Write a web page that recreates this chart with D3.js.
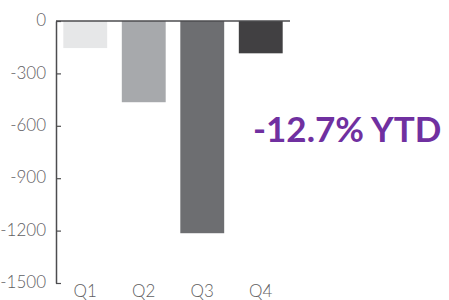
<!DOCTYPE html>
<html>
<head>
<meta charset="utf-8">
<script src="https://cdn.jsdelivr.net/npm/d3@7"></script>
<style>
  body { margin: 0; background: #fff; }
  text { font-family: "Lato", "Noto Sans", sans-serif; }
</style>
</head>
<body>
<div id="chart"></div>
<script>
// data
var quarters = ["Q1", "Q2", "Q3", "Q4"];
var values = [-155, -465, -1215, -185];
var barColors = ["#e6e7e8", "#a7a9ac", "#6d6e71", "#414042"];
var yTicks = [0, -300, -600, -900, -1200, -1500];
var note = "-12.7% YTD";

var W = 449, H = 300;
var margin = {top: 21, right: 159, bottom: 17, left: 56};
var width = W - margin.left - margin.right;
var height = H - margin.top - margin.bottom;

var svg = d3.select("#chart")
  .append("svg")
    .attr("width", W)
    .attr("height", H)
  .append("g")
    .attr("transform", "translate(" + margin.left + "," + margin.top + ")");

var x = d3.scaleBand()
  .domain(quarters)
  .range([0, width])
  .paddingInner(0.25)
  .paddingOuter(0.125);

var y = d3.scaleLinear()
  .domain([0, -1500])
  .range([0, height]);

// bars
svg.selectAll("rect.bar")
  .data(values)
  .enter()
  .append("rect")
    .attr("class", "bar")
    .attr("x", function(d, i) { return x(quarters[i]); })
    .attr("y", y(0))
    .attr("width", x.bandwidth())
    .attr("height", function(d) { return y(d) - y(0); })
    .style("fill", function(d, i) { return barColors[i]; });

// y axis
var yAxis = svg.append("g")
  .call(d3.axisLeft(y)
    .tickValues(yTicks)
    .tickFormat(function(d) { return String(d); })
    .tickSize(-5)
    .tickSizeOuter(0));
yAxis.select(".domain").attr("stroke", "#4d4d4f").attr("stroke-width", 1.5);
yAxis.selectAll(".tick line").attr("stroke", "#4d4d4f").attr("stroke-width", 1.2);
yAxis.selectAll(".tick text")
  .attr("fill", "#5f6062")
  .style("font-size", "17px")
  .style("font-weight", "300")
  .attr("x", -10)
  .attr("dy", "0.28em");

// zero line across top
svg.append("line")
  .attr("x1", 0)
  .attr("x2", width)
  .attr("y1", y(0))
  .attr("y2", y(0))
  .attr("stroke", "#4d4d4f")
  .attr("stroke-width", 1.5);

// category labels
svg.selectAll("text.cat")
  .data(quarters)
  .enter()
  .append("text")
    .attr("class", "cat")
    .attr("x", function(d) { return x(d) + x.bandwidth() / 2; })
    .attr("y", height + 14)
    .attr("text-anchor", "middle")
    .attr("fill", "#5f6062")
    .style("font-size", "17px")
    .style("font-weight", "300")
    .text(function(d) { return d; });

// YTD note
d3.select("svg").append("text")
  .attr("x", 253)
  .attr("y", 142)
  .attr("fill", "#7030a0")
  .style("font-size", "35px")
  .style("font-weight", "bold")
  .text(note);
</script>
</body>
</html>
